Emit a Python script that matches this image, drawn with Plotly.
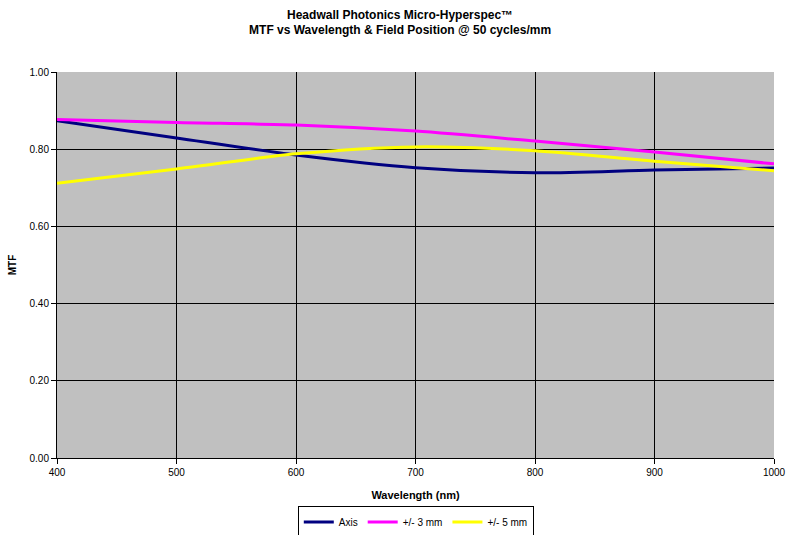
import plotly.graph_objects as go

wavelength = [400, 500, 600, 700, 800, 900, 1000]
mtf_axis = [0.874, 0.829, 0.785, 0.752, 0.739, 0.746, 0.751]
mtf_3mm = [0.877, 0.869, 0.863, 0.847, 0.821, 0.793, 0.762]
mtf_5mm = [0.712, 0.749, 0.788, 0.806, 0.796, 0.769, 0.744]

series_names = ["Axis", "+/- 3 mm", "+/- 5 mm"]
series_colors = ["#000080", "#FF00FF", "#FFFF00"]

font_family = "Arial, Liberation Sans, sans-serif"

fig = go.Figure()
for name, vals, col in zip(series_names, [mtf_axis, mtf_3mm, mtf_5mm], series_colors):
    fig.add_trace(go.Scatter(
        x=wavelength, y=vals, name=name, mode="lines",
        line=dict(color=col, width=3, shape="spline", smoothing=0.8),
    ))

fig.update_layout(
    width=786, height=535,
    margin=dict(l=57, r=12, t=72, b=77, autoexpand=False),
    paper_bgcolor="white",
    plot_bgcolor="#C0C0C0",
    font=dict(family=font_family, size=10, color="black"),
    title=dict(
        text="<b>Headwall Photonics Micro-Hyperspec™<br>MTF vs Wavelength &amp; Field Position @ 50 cycles/mm</b>",
        x=0.509, xref="container", xanchor="center",
        y=0.965, yref="container", yanchor="top",
        font=dict(family=font_family, size=12, color="black"),
    ),
    xaxis=dict(
        range=[400, 1000], dtick=100, tick0=400,
        showgrid=True, gridcolor="black", gridwidth=1,
        ticks="outside", ticklen=5, tickcolor="black",
        showline=True, linecolor="black", linewidth=1,
        zeroline=False, automargin=False,
        title=dict(text="<b>Wavelength (nm)</b>", font=dict(size=11), standoff=14),
        tickfont=dict(size=10),
    ),
    yaxis=dict(
        range=[0, 1], dtick=0.2, tickformat=".2f",
        showgrid=True, gridcolor="black", gridwidth=1,
        ticks="outside", ticklen=5, tickcolor="black",
        showline=True, linecolor="black", linewidth=1,
        zeroline=False, automargin=False,
        title=dict(text="<b>MTF</b>", font=dict(size=10), standoff=11),
        tickfont=dict(size=10),
    ),
    legend=dict(
        orientation="h", x=0.529, xanchor="center", xref="container",
        y=0.0243, yanchor="middle", yref="container",
        bordercolor="black", borderwidth=1, bgcolor="white",
        font=dict(size=10),
        tracegroupgap=0,
    ),
)

fig.write_html("out.html", config={"displayModeBar": False},
               post_script="document.body.style.margin='0px';")
